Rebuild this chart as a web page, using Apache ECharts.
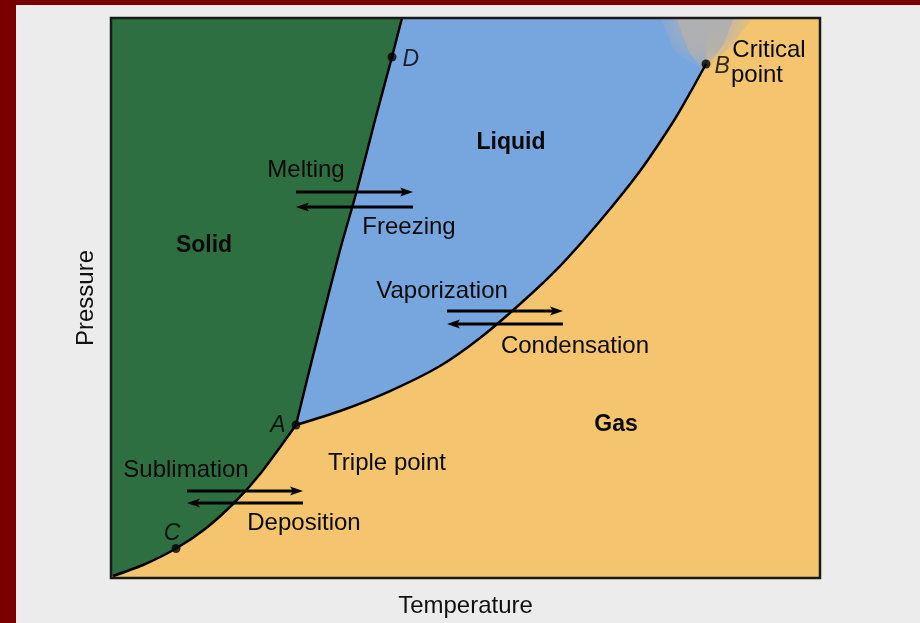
<!DOCTYPE html>
<html><head><meta charset="utf-8">
<script src="https://cdn.jsdelivr.net/npm/echarts@6/dist/echarts.min.js"></script>
<style>
html,body{margin:0;padding:0;width:920px;height:623px;overflow:hidden;background:#7a0000;}
#chart{position:absolute;left:16px;top:5px;width:904px;height:618px;background:#ececec;}
</style></head><body><div id="chart"></div>
<script>
// Phase boundary curves, [temperature, pressure] in arbitrary units (0..100)
const sublimationCurve = [[0.28,0.36],[4.51,2.32],[9.17,5.27],[13.26,8.75],[17.49,13.57],[21.02,18.57],[26.09,27.32]];
const fusionCurve = [[26.09,27.32],[27.64,35.36],[29.76,46.07],[32.30,58.57],[34.70,69.29],[37.24,81.79],[39.63,93.04],[41.04,100]];
const vaporizationCurve = [[26.09,27.32],[32.30,29.82],[39.35,33.39],[46.40,37.86],[52.05,42.86],[57.69,48.93],[63.33,55.71],[68.97,63.75],[74.61,72.68],[79.27,81.43],[81.66,86.61],[83.92,91.79]];
// Continuation of the liquid/gas boundary above the critical point
const supercriticalEdge = [[83.92,91.79],[84.2,100]];
// Named points
const pointNames = ['D','B','A','C'];
const pointValues = [[39.63,93.04],[83.92,91.79],[26.09,27.32],[9.17,5.27]];
// Transition arrows [x1, y1, x2, y2] (arrowhead at x2,y2)
const arrowPairs = [
  [26.09,68.93,42.60,68.93],[42.60,66.25,26.09,66.25],
  [47.39,47.68,63.75,47.68],[63.75,45.36,47.39,45.36],
  [10.72,15.54,27.08,15.54],[27.08,13.39,10.72,13.39]
];
// Text annotations
const labelTexts = ['Melting','Freezing','Vaporization','Condensation','Sublimation','Deposition','Triple point','Critical','point'];
const labelPos = [[27.5,72.86],[42.03,62.68],[46.69,51.25],[65.44,41.43],[10.58,19.29],[27.22,9.82],[38.93,20.54],[92.81,94.29],[91.11,89.82]];
const regionNames = ['Liquid','Solid','Gas'];
const regionPos = [[56.42,77.68],[13.12,59.29],[71.23,27.32]];

const FONT = '"Liberation Sans", Arial, Helvetica, sans-serif';
const chart = echarts.init(document.getElementById('chart'));

function px(api, pts){ return pts.map(p => api.coord(p)); }

const regionsSeries = {
  type:'custom', z:1, silent:true, data:[[0,0]],
  renderItem(params, api){
    const gas = px(api, [[0,0],[100,0],[100,100],[0,100]]);
    const liquid = px(api, vaporizationCurve.concat(supercriticalEdge.slice(1)).concat(fusionCurve.slice().reverse()));
    const solid = px(api, [[0,0]].concat(sublimationCurve).concat(fusionCurve.slice(1)).concat([[0,100]]));
    const grayZone = px(api, [[83.6,90.5],[81.5,94],[79.8,100],[87.8,100],[86.5,95.5]]);
    const grayHalo = px(api, [[83.6,90.5],[79.5,94],[77.5,100],[90.5,100],[87.5,95]]);
    return {type:'group', children:[
      {type:'polygon', shape:{points:gas}, style:{fill:'#f4c46e'}},
      {type:'polygon', shape:{points:liquid}, style:{fill:'#77a6de'}},
      {type:'polygon', shape:{points:grayHalo}, style:{fill:{type:'radial', x:0.5, y:0, r:1.0,
        colorStops:[{offset:0,color:'rgba(178,178,178,0.9)'},{offset:0.5,color:'rgba(178,178,178,0.6)'},{offset:1,color:'rgba(178,178,178,0)'}]}}},
      {type:'polygon', shape:{points:grayZone}, style:{fill:{type:'linear', x:0, y:0, x2:0, y2:1,
        colorStops:[{offset:0,color:'rgba(176,176,176,1)'},{offset:0.6,color:'rgba(176,176,176,0.85)'},{offset:1,color:'rgba(176,176,176,0.2)'}]}}},
      {type:'polygon', shape:{points:solid}, style:{fill:'#2e6f41'}}
    ]};
  }
};

function curveSeries(data){
  return {type:'line', data, z:3, showSymbol:false, smooth:0.25, silent:true,
    lineStyle:{color:'#000', width:2.5}};
}

const arrowSeries = {
  type:'custom', z:4, silent:true, data: arrowPairs,
  renderItem(params, api){
    const a = api.coord([api.value(0), api.value(1)]);
    const b = api.coord([api.value(2), api.value(3)]);
    const dir = Math.sign(b[0]-a[0]);
    const hl = 13, hw = 4.5;
    const tip = b, base = [b[0]-dir*hl, b[1]];
    return {type:'group', children:[
      {type:'line', shape:{x1:a[0], y1:a[1], x2:b[0]-dir*6, y2:b[1]}, style:{stroke:'#000', lineWidth:3}},
      {type:'polygon', shape:{points:[tip,[base[0],base[1]-hw],[base[0]+dir*3,base[1]],[base[0],base[1]+hw]]}, style:{fill:'#000'}}
    ]};
  }
};

const textSeries = {
  type:'custom', z:5, silent:true, data: labelPos.map((p,i)=>[p[0],p[1],i]),
  renderItem(params, api){
    const c = api.coord([api.value(0), api.value(1)]);
    return {type:'text', x:c[0], y:c[1], style:{text: labelTexts[params.dataIndex], fill:'#0a0a0a',
      font:'24px '+FONT, align:'center', verticalAlign:'middle'}};
  }
};
const regionTextSeries = {
  type:'custom', z:5, silent:true, data: regionPos.map((p,i)=>[p[0],p[1],i]),
  renderItem(params, api){
    const c = api.coord([api.value(0), api.value(1)]);
    return {type:'text', x:c[0], y:c[1], style:{text: regionNames[params.dataIndex], fill:'#0a0a0a',
      font:'bold 23px '+FONT, align:'center', verticalAlign:'middle'}};
  }
};

const labelOpts = {
  D:{position:'right', distance:6, offset:[0,3]},
  B:{position:'right', distance:4, offset:[0,3]},
  A:{position:'left', distance:6, offset:[0,1]},
  C:{position:'top', distance:3, offset:[-4,4]}
};
const pointSeries = {
  type:'scatter', z:6, silent:true, symbolSize:9, itemStyle:{color:'#000'},
  data: pointNames.map((n,i)=>({name:n, value:pointValues[i],
    label:Object.assign({show:true, formatter:'{b}', color:'#000', fontSize:23, fontStyle:'italic', fontFamily:FONT}, labelOpts[n])}))
};

const frameSeries = {
  type:'custom', z:7, silent:true, data:[[0,0]],
  renderItem(params, api){
    const p0 = api.coord([0,100]), p1 = api.coord([100,0]);
    return {type:'rect', shape:{x:p0[0], y:p0[1], width:p1[0]-p0[0], height:p1[1]-p0[1]},
      style:{fill:null, stroke:'#1a1a1a', lineWidth:2.5}};
  }
};

chart.setOption({
  animation:false,
  grid:{left:95, top:13, right:100, bottom:45},
  xAxis:{type:'value', min:0, max:100, name:'Temperature', nameLocation:'middle', nameGap:16,
    nameTextStyle:{fontSize:24, color:'#111', fontFamily:FONT},
    axisLine:{show:false}, axisTick:{show:false}, axisLabel:{show:false}, splitLine:{show:false}},
  yAxis:{type:'value', min:0, max:100, name:'Pressure', nameLocation:'middle', nameGap:13,
    nameTextStyle:{fontSize:24, color:'#111', fontFamily:FONT},
    axisLine:{show:false}, axisTick:{show:false}, axisLabel:{show:false}, splitLine:{show:false}},
  series:[regionsSeries, curveSeries(sublimationCurve), curveSeries(fusionCurve), curveSeries(vaporizationCurve),
    arrowSeries, textSeries, regionTextSeries, pointSeries, frameSeries]
});
</script></body></html>
